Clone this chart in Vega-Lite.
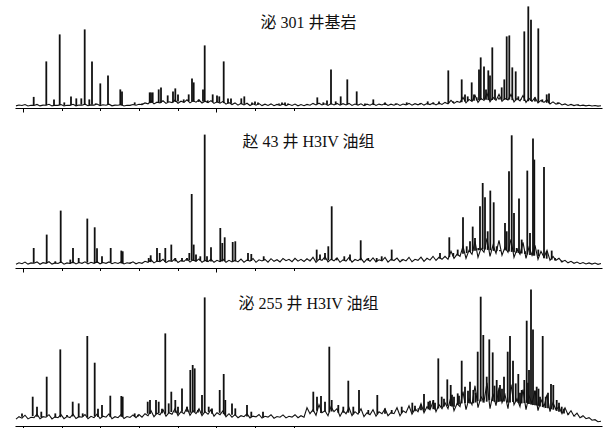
{
"$schema": "https://vega.github.io/schema/vega-lite/v6.json",
"padding": {"left": 13, "top": 5, "right": 6, "bottom": 0},
"spacing": 14,
"config": {
 "view": {"stroke": null},
 "axis": {"labels": false, "grid": false, "title": null, "domainColor": "#000", "domainWidth": 1, "tickColor": "#000", "tickWidth": 1},
 "title": {"font": "Liberation Serif, Noto Sans CJK SC", "fontSize": 16, "fontWeight": "normal", "color": "#111", "anchor": "middle", "baseline": "alphabetic"}
},
"datasets": {
 "n1": [{"x":14,"y":0.5},{"x":17,"y":1.4},{"x":20,"y":0.9},{"x":23,"y":1.9},{"x":26,"y":0.4},{"x":29,"y":1.2},{"x":32,"y":1},{"x":35,"y":2},{"x":38,"y":0.5},{"x":41,"y":1.3},{"x":44,"y":1.1},{"x":47,"y":2.1},{"x":50,"y":0.5},{"x":53,"y":1.2},{"x":56,"y":1},{"x":59,"y":1.9},{"x":62,"y":0.4},{"x":65,"y":1.1},{"x":68,"y":1},{"x":71,"y":2.1},{"x":74,"y":0.6},{"x":77,"y":1.4},{"x":80,"y":1.2},{"x":83,"y":2.2},{"x":86,"y":0.7},{"x":89,"y":1.5},{"x":92,"y":1.3},{"x":95,"y":2.4},{"x":98,"y":0.8},{"x":101,"y":1.6},{"x":104,"y":1.2},{"x":107,"y":2.2},{"x":110,"y":0.6},{"x":113,"y":1.3},{"x":116,"y":1.1},{"x":119,"y":1.9},{"x":122,"y":0.4},{"x":125,"y":1.2},{"x":128,"y":1},{"x":131,"y":1.9},{"x":134,"y":1.2},{"x":137,"y":2.2},
  {"x":140,"y":1.8},{"x":143,"y":3.5},{"x":146,"y":2.6},{"x":149,"y":5.5},{"x":152,"y":2.5},{"x":155,"y":4.2},{"x":158,"y":3.4},{"x":161,"y":5.6},{"x":164,"y":3},{"x":167,"y":4.6},{"x":170,"y":3.8},{"x":173,"y":6.4},{"x":176,"y":3.2},{"x":179,"y":5.2},{"x":182,"y":4},{"x":185,"y":6.6},{"x":188,"y":3.5},{"x":191,"y":5.6},{"x":194,"y":4.2},{"x":197,"y":6.4},{"x":200,"y":3.4},{"x":203,"y":5.2},{"x":206,"y":3.8},{"x":209,"y":5.8},{"x":212,"y":3},{"x":215,"y":4.6},{"x":218,"y":3.2},{"x":221,"y":5},{"x":224,"y":2.2},{"x":227,"y":3.8},{"x":230,"y":1.8},
  {"x":233,"y":3.5},{"x":236,"y":1.2},{"x":239,"y":3},{"x":242,"y":1.5},{"x":245,"y":3.2},{"x":248,"y":0.9},{"x":251,"y":2.6},{"x":254,"y":1.2},{"x":257,"y":2.8},{"x":260,"y":0.8},{"x":263,"y":2.2},{"x":266,"y":1},{"x":269,"y":2.5},{"x":272,"y":0.7},{"x":275,"y":2},{"x":278,"y":1.1},{"x":281,"y":2.4},{"x":284,"y":0.8},{"x":287,"y":2.1},{"x":290,"y":1},{"x":293,"y":2.3},{"x":296,"y":0.6},{"x":299,"y":1.8},
  {"x":302,"y":0.7},{"x":305,"y":2},{"x":308,"y":1.2},{"x":311,"y":3},{"x":314,"y":1.5},{"x":317,"y":3.2},{"x":320,"y":1.4},{"x":323,"y":2.6},{"x":326,"y":1},{"x":329,"y":2.8},{"x":332,"y":1.5},{"x":335,"y":3},{"x":338,"y":1.2},{"x":341,"y":2.7},{"x":344,"y":1.4},{"x":347,"y":3},{"x":350,"y":1},{"x":353,"y":2.4},{"x":356,"y":1.3},{"x":359,"y":2.6},{"x":362,"y":0.8},{"x":365,"y":2.2},{"x":368,"y":1.2},{"x":371,"y":2.8},{"x":374,"y":1},{"x":377,"y":2.3},{"x":380,"y":1.4},{"x":383,"y":2.9},{"x":386,"y":0.9},{"x":389,"y":2.2},{"x":392,"y":1.2},{"x":395,"y":2.6},{"x":398,"y":1},{"x":401,"y":2.4},{"x":404,"y":1.5},{"x":407,"y":3},{"x":410,"y":1.2},{"x":413,"y":2.7},{"x":416,"y":1.6},{"x":419,"y":3.1},{"x":422,"y":1.3},{"x":425,"y":2.8},{"x":428,"y":1.8},{"x":431,"y":3.3},{"x":434,"y":1.5},{"x":437,"y":3.2},{"x":440,"y":2},
  {"x":443,"y":4},{"x":446,"y":2.5},{"x":449,"y":6},{"x":452,"y":3},{"x":455,"y":5},{"x":458,"y":4},{"x":461,"y":9},{"x":464,"y":3.5},{"x":467,"y":7},{"x":470,"y":5},{"x":473,"y":11},{"x":476,"y":4},{"x":479,"y":8},{"x":482,"y":6},{"x":485,"y":13},{"x":488,"y":4.5},{"x":491,"y":9},{"x":494,"y":6},{"x":497,"y":12},{"x":500,"y":5},{"x":503,"y":8},{"x":506,"y":6.5},{"x":509,"y":12},{"x":512,"y":4.5},{"x":515,"y":8},{"x":518,"y":5.5},{"x":521,"y":11},{"x":524,"y":4},{"x":527,"y":8},{"x":530,"y":5},{"x":533,"y":9},{"x":536,"y":3.5},{"x":539,"y":6},{"x":542,"y":4},{"x":545,"y":6.5},{"x":548,"y":2.5},{"x":551,"y":4.5},{"x":554,"y":2.2},{"x":557,"y":3.5},{"x":560,"y":1.5},
  {"x":563,"y":2.5},{"x":566,"y":1},{"x":569,"y":2},{"x":572,"y":0.8},{"x":575,"y":1.6},{"x":578,"y":0.6},{"x":581,"y":1.3},{"x":584,"y":0.5},{"x":587,"y":1.1},{"x":590,"y":0.4},{"x":593,"y":0.9},{"x":596,"y":0.3},{"x":599,"y":0.6}],
 "p1": [{"x":31.7,"h":9.5,"b":1.2},{"x":44.3,"h":45,"b":1.2},{"x":52,"h":7,"b":0.8},{"x":57.7,"h":72,"b":1.2},{"x":62.3,"h":4,"b":0.8},{"x":69,"h":10,"b":1.4},{"x":74.3,"h":8,"b":1},{"x":79.3,"h":8,"b":1.7},{"x":82.7,"h":77,"b":1.5},{"x":87.3,"h":7,"b":1.3},{"x":90,"h":45,"b":1.8},{"x":93.7,"h":3,"b":2},{"x":98.3,"h":23,"b":1.5},{"x":106,"h":31,"b":1.6},{"x":118.3,"h":17,"b":1.2},{"x":120,"h":15,"b":1},{"x":132.7,"h":4,"b":1.6},{"x":140,"h":3,"b":2.5},{"x":147.7,"h":14,"b":3.2},{"x":149,"h":14,"b":3.5},{"x":150.7,"h":14,"b":3.8},{"x":156.7,"h":17,"b":3.6},{"x":159,"h":19,"b":3.7},{"x":165.7,"h":11,"b":4.3},{"x":171,"h":15,"b":4},{"x":173.3,"h":18,"b":4.4},{"x":176,"h":12,"b":5},{"x":181.7,"h":7,"b":4},{"x":186.7,"h":12,"b":5.2},{"x":190,"h":28,"b":5},{"x":191.7,"h":24,"b":4.7},{"x":196.7,"h":7,"b":4.5},{"x":201,"h":17,"b":4.8},{"x":202.7,"h":61,"b":4.6},{"x":205.7,"h":6,"b":3.9},{"x":210.7,"h":12,"b":4.3},{"x":215,"h":11,"b":4},{"x":217.3,"h":10,"b":3.6},{"x":221.7,"h":45,"b":3.3},{"x":226,"h":8,"b":2.8},{"x":229,"h":8,"b":2.6},{"x":239.3,"h":8,"b":2.3},{"x":242.3,"h":10,"b":2.5},{"x":250,"h":4,"b":1.6},{"x":253,"h":5,"b":1.8},{"x":256,"h":4,"b":1.6},{"x":277,"h":3,"b":1.7},{"x":280,"h":4,"b":1.6},{"x":283,"h":4,"b":1.3},{"x":286,"h":3,"b":1.3},{"x":315.3,"h":9,"b":2.4},{"x":321.3,"h":4,"b":1.9},{"x":325,"h":6,"b":1.6},{"x":329,"h":37,"b":1.8},{"x":333.7,"h":5,"b":1.9},{"x":338.7,"h":10,"b":1.5},{"x":345.3,"h":27,"b":1.9},{"x":354.7,"h":15,"b":1.6},{"x":363,"h":3,"b":1.1},{"x":371.3,"h":7,"b":1.4},{"x":383,"h":4,"b":1.4},{"x":393.7,"h":3,"b":1.4},{"x":404.7,"h":4,"b":1.8},{"x":418,"h":3,"b":1.8},{"x":425.7,"h":5,"b":1.9},{"x":431.3,"h":4,"b":2},{"x":437,"h":5,"b":2.2},{"x":446.3,"h":36,"b":3},{"x":451.3,"h":5,"b":3.4},{"x":459.7,"h":27,"b":4.2},{"x":463,"h":12,"b":4.8},{"x":465.7,"h":10,"b":5.1},{"x":469.7,"h":24,"b":5.5},{"x":472,"h":12,"b":5.7},{"x":474.7,"h":9,"b":5.9},{"x":477,"h":37,"b":6.2},{"x":478.7,"h":49,"b":6.4},{"x":482,"h":40,"b":7},{"x":484,"h":17,"b":6.7},{"x":486.3,"h":36,"b":6.3},{"x":488,"h":31,"b":6},{"x":490.3,"h":59,"b":6.4},{"x":493,"h":17,"b":6.8},{"x":497,"h":9,"b":6.8},{"x":499.7,"h":19,"b":6.5},{"x":502.3,"h":27,"b":6.7},{"x":504.7,"h":70,"b":6.9},{"x":507.3,"h":71,"b":6.8},{"x":510.3,"h":39,"b":6.3},{"x":513.7,"h":35,"b":6.1},{"x":516.3,"h":10,"b":6.3},{"x":519,"h":7,"b":6.3},{"x":522.3,"h":75,"b":5.4},{"x":526.3,"h":100,"b":5.2},{"x":529,"h":86.6,"b":5.3},{"x":533,"h":9,"b":5},{"x":536.3,"h":78,"b":4.5},{"x":540.3,"h":7,"b":4.2},{"x":544.7,"h":12,"b":3.6},{"x":547,"h":13,"b":3.2},{"x":555.7,"h":4,"b":2.2},{"x":576.3,"h":2,"b":0.9}],
 "n2": [{"x":14,"y":1},{"x":17,"y":2.5},{"x":20,"y":1.6},{"x":23,"y":3.2},{"x":26,"y":1.2},{"x":29,"y":2.4},{"x":32,"y":2},{"x":35,"y":3.4},{"x":38,"y":1},{"x":41,"y":2.6},{"x":44,"y":2},{"x":47,"y":3.6},{"x":50,"y":1.2},{"x":53,"y":2.4},{"x":56,"y":1.8},{"x":59,"y":3.4},{"x":62,"y":1.1},{"x":65,"y":2.4},{"x":68,"y":1.8},{"x":71,"y":3.3},{"x":74,"y":1.4},{"x":77,"y":2.8},{"x":80,"y":2},{"x":83,"y":3.5},{"x":86,"y":1.4},{"x":89,"y":3},{"x":92,"y":2},{"x":95,"y":3.6},{"x":98,"y":1.5},{"x":101,"y":2.8},{"x":104,"y":2},{"x":107,"y":3.4},{"x":110,"y":1.6},{"x":113,"y":2.8},{"x":116,"y":1.8},{"x":119,"y":3.3},{"x":122,"y":1.3},{"x":125,"y":2.6},{"x":128,"y":2},{"x":131,"y":3.5},{"x":134,"y":1.5},{"x":137,"y":2.8},
  {"x":140,"y":2},{"x":143,"y":4},{"x":146,"y":3},{"x":149,"y":5.5},{"x":152,"y":2.4},{"x":155,"y":4.2},{"x":158,"y":3.6},{"x":161,"y":6},{"x":164,"y":2.7},{"x":167,"y":4.6},{"x":170,"y":3.8},{"x":173,"y":6.4},{"x":176,"y":2.8},{"x":179,"y":4.8},{"x":182,"y":4},{"x":185,"y":6.6},{"x":188,"y":3.2},{"x":191,"y":5.4},{"x":194,"y":4},{"x":197,"y":6.4},{"x":200,"y":3},{"x":203,"y":5},{"x":206,"y":3.6},{"x":209,"y":6},{"x":212,"y":3},{"x":215,"y":5},{"x":218,"y":3.6},{"x":221,"y":6},{"x":224,"y":3},{"x":227,"y":5},{"x":230,"y":3.4},
  {"x":233,"y":5},{"x":236,"y":3.4},{"x":239,"y":6.2},{"x":242,"y":3},{"x":245,"y":5.2},{"x":248,"y":4.2},{"x":251,"y":6.8},{"x":254,"y":3},{"x":257,"y":5.5},{"x":260,"y":4.4},{"x":263,"y":6},{"x":266,"y":3.2},{"x":269,"y":6.6},{"x":272,"y":4},{"x":275,"y":5.6},{"x":278,"y":3.4},{"x":281,"y":6.8},{"x":284,"y":4.6},{"x":287,"y":6},{"x":290,"y":3.6},{"x":293,"y":7},{"x":296,"y":4.2},{"x":299,"y":6},
  {"x":302,"y":3.8},{"x":305,"y":6.5},{"x":308,"y":4.2},{"x":311,"y":8},{"x":314,"y":3},{"x":317,"y":6},{"x":320,"y":5},{"x":323,"y":8.5},{"x":326,"y":3.5},{"x":329,"y":6},{"x":332,"y":4.5},{"x":335,"y":7.5},{"x":338,"y":3},{"x":341,"y":5.5},{"x":344,"y":4.2},{"x":347,"y":7.8},{"x":350,"y":3.2},{"x":353,"y":5.8},{"x":356,"y":4.6},{"x":359,"y":7},{"x":362,"y":3},{"x":365,"y":6.2},{"x":368,"y":4},{"x":371,"y":7.5},{"x":374,"y":3.4},{"x":377,"y":5.5},{"x":380,"y":4.5},{"x":383,"y":7.8},{"x":386,"y":3.2},{"x":389,"y":6},{"x":392,"y":4.8},{"x":395,"y":7.2},{"x":398,"y":3.4},{"x":401,"y":5.8},{"x":404,"y":4.4},{"x":407,"y":8},{"x":410,"y":3.6},{"x":413,"y":6},{"x":416,"y":5},{"x":419,"y":8.2},{"x":422,"y":4},{"x":425,"y":7},{"x":428,"y":5.2},{"x":431,"y":9},{"x":434,"y":4.8},{"x":437,"y":8},{"x":440,"y":6},
  {"x":443,"y":9},{"x":446,"y":6},{"x":449,"y":14},{"x":452,"y":7},{"x":455,"y":11},{"x":458,"y":9},{"x":461,"y":19},{"x":464,"y":7},{"x":467,"y":15},{"x":470,"y":11},{"x":473,"y":24},{"x":476,"y":8},{"x":479,"y":17},{"x":482,"y":13},{"x":485,"y":27},{"x":488,"y":9},{"x":491,"y":20},{"x":494,"y":12},{"x":497,"y":25},{"x":500,"y":10},{"x":503,"y":18},{"x":506,"y":13},{"x":509,"y":26},{"x":512,"y":8},{"x":515,"y":16},{"x":518,"y":11},{"x":521,"y":23},{"x":524,"y":7},{"x":527,"y":18},{"x":530,"y":10},{"x":533,"y":20},{"x":536,"y":6},{"x":539,"y":14},{"x":542,"y":8},{"x":545,"y":15},{"x":548,"y":5},{"x":551,"y":9},{"x":554,"y":5},{"x":557,"y":7},{"x":560,"y":3.5},
  {"x":563,"y":5},{"x":566,"y":2.5},{"x":569,"y":4},{"x":572,"y":2},{"x":575,"y":3.2},{"x":578,"y":1.6},{"x":581,"y":2.8},{"x":584,"y":1.4},{"x":587,"y":2.4},{"x":590,"y":1.2},{"x":593,"y":2.2},{"x":596,"y":1},{"x":599,"y":1.8}],
 "p2": [{"x":31.7,"h":17.3,"b":2.4},{"x":44.7,"h":30.7,"b":2.1},{"x":53.3,"h":4,"b":2},{"x":58.7,"h":54.7,"b":2.3},{"x":68.3,"h":5.7,"b":1.6},{"x":71,"h":17.3,"b":2},{"x":76.7,"h":7.3,"b":2.3},{"x":85.3,"h":46.7,"b":2.7},{"x":92.7,"h":38,"b":2.1},{"x":95,"h":17,"b":2.2},{"x":100,"h":9,"b":2.3},{"x":108.7,"h":17.3,"b":2.6},{"x":119.3,"h":14.7,"b":1.9},{"x":120.7,"h":14,"b":1.9},{"x":128.3,"h":3,"b":2.5},{"x":146.7,"h":7.3,"b":3.4},{"x":148.7,"h":10,"b":3.2},{"x":155,"h":17.3,"b":3.5},{"x":157.7,"h":12.3,"b":4},{"x":163.3,"h":17.3,"b":3.3},{"x":169.3,"h":20.7,"b":4.4},{"x":173.3,"h":7.3,"b":4},{"x":180,"h":7.3,"b":3.8},{"x":185,"h":7.3,"b":4.5},{"x":187.3,"h":12.3,"b":4.9},{"x":189.7,"h":71.3,"b":4.7},{"x":191.7,"h":20.7,"b":4.4},{"x":194,"h":10.7,"b":4},{"x":198.3,"h":9,"b":4.4},{"x":202.7,"h":130.7,"b":4},{"x":205,"h":9,"b":3.6},{"x":209,"h":18,"b":3.8},{"x":218.3,"h":37.3,"b":3.6},{"x":220.3,"h":22.3,"b":3.9},{"x":222.7,"h":28,"b":4.3},{"x":230.7,"h":23.3,"b":3.6},{"x":233.3,"h":24,"b":3.8},{"x":246,"h":12.3,"b":4.3},{"x":249.3,"h":11.3,"b":4.3},{"x":261.7,"h":9,"b":4.7},{"x":308,"h":5.7,"b":5.5},{"x":314.7,"h":15.7,"b":4.6},{"x":318,"h":10.7,"b":5.5},{"x":323,"h":12.3,"b":5.5},{"x":326.3,"h":19,"b":5},{"x":329.7,"h":59,"b":5.3},{"x":334.7,"h":7.3,"b":5},{"x":342.3,"h":9,"b":4.6},{"x":348,"h":10.7,"b":4.7},{"x":358.7,"h":25,"b":5},{"x":366.3,"h":7.3,"b":4.8},{"x":374.7,"h":7.3,"b":4.2},{"x":379.7,"h":9,"b":5.3},{"x":389.7,"h":15.7,"b":4.8},{"x":399.7,"h":5.7,"b":4.6},{"x":438,"h":12.3,"b":6.7},{"x":443,"h":7.3,"b":7.5},{"x":447.3,"h":28,"b":8.2},{"x":451.3,"h":12.3,"b":8.9},{"x":455.7,"h":15.7,"b":10},{"x":461,"h":48,"b":11.5},{"x":464.7,"h":19,"b":12.2},{"x":468,"h":24,"b":13.3},{"x":470.7,"h":38.7,"b":14.1},{"x":473,"h":27.3,"b":14.5},{"x":476.3,"h":17.3,"b":15},{"x":478,"h":59,"b":15.3},{"x":480.7,"h":82.3,"b":15.8},{"x":483,"h":68,"b":15.8},{"x":485.7,"h":34,"b":15.4},{"x":488.3,"h":74.7,"b":15},{"x":491.7,"h":63,"b":14.4},{"x":494.7,"h":19,"b":14.2},{"x":498,"h":14,"b":15.3},{"x":503,"h":42.3,"b":15},{"x":504.7,"h":34,"b":14.7},{"x":507,"h":94,"b":13.8},{"x":509.7,"h":130,"b":13.4},{"x":512,"h":52.3,"b":13},{"x":514.7,"h":17.3,"b":12.5},{"x":517,"h":66.7,"b":12.2},{"x":519.7,"h":25.7,"b":11.8},{"x":523,"h":14,"b":11.2},{"x":525.3,"h":94.7,"b":10.8},{"x":528,"h":32.3,"b":10.3},{"x":531,"h":126.7,"b":9.8},{"x":532.3,"h":105.7,"b":9.6},{"x":536.3,"h":15.7,"b":9},{"x":542,"h":98.3,"b":7},{"x":544.7,"h":14,"b":6.6},{"x":549.7,"h":14.7,"b":5.7},{"x":553,"h":7.3,"b":4.8},{"x":559.7,"h":4.7,"b":3}],
 "n3": [{"x":14,"y":1.5},{"x":17,"y":4},{"x":20,"y":2.5},{"x":23,"y":5.5},{"x":26,"y":1.8},{"x":29,"y":3.5},{"x":32,"y":3},{"x":35,"y":6.5},{"x":38,"y":2},{"x":41,"y":4},{"x":44,"y":3.5},{"x":47,"y":6},{"x":50,"y":1.8},{"x":53,"y":3.8},{"x":56,"y":3},{"x":59,"y":6},{"x":62,"y":2},{"x":65,"y":4.2},{"x":68,"y":3.2},{"x":71,"y":6.5},{"x":74,"y":2.2},{"x":77,"y":4},{"x":80,"y":3.5},{"x":83,"y":6.2},{"x":86,"y":2},{"x":89,"y":4.4},{"x":92,"y":3},{"x":95,"y":6.5},{"x":98,"y":2.2},{"x":101,"y":4.5},{"x":104,"y":3.5},{"x":107,"y":6.8},{"x":110,"y":2},{"x":113,"y":4},{"x":116,"y":3},{"x":119,"y":6},{"x":122,"y":2.2},{"x":125,"y":4.2},{"x":128,"y":3.2},{"x":131,"y":5.8},{"x":134,"y":3},{"x":137,"y":6.2},
  {"x":140,"y":3.5},{"x":143,"y":7},{"x":146,"y":5},{"x":149,"y":10},{"x":152,"y":4},{"x":155,"y":7.5},{"x":158,"y":6},{"x":161,"y":11},{"x":164,"y":4.5},{"x":167,"y":8},{"x":170,"y":6.5},{"x":173,"y":12},{"x":176,"y":5},{"x":179,"y":9},{"x":182,"y":7},{"x":185,"y":13},{"x":188,"y":5.5},{"x":191,"y":10},{"x":194,"y":7},{"x":197,"y":12},{"x":200,"y":5},{"x":203,"y":9},{"x":206,"y":6.5},{"x":209,"y":11},{"x":212,"y":4.5},{"x":215,"y":8},{"x":218,"y":6},{"x":221,"y":10},{"x":224,"y":4},{"x":227,"y":7},{"x":230,"y":3.5},
  {"x":233,"y":6},{"x":236,"y":3},{"x":239,"y":5},{"x":242,"y":4},{"x":245,"y":6.8},{"x":248,"y":2.8},{"x":251,"y":4.6},{"x":254,"y":3.8},{"x":257,"y":6.2},{"x":260,"y":2.6},{"x":263,"y":4.4},{"x":266,"y":3.6},{"x":269,"y":6},{"x":272,"y":2.5},{"x":275,"y":4.2},{"x":278,"y":3.5},{"x":281,"y":5.8},{"x":284,"y":2.8},{"x":287,"y":4.4},{"x":290,"y":3.6},{"x":293,"y":6},{"x":296,"y":3},{"x":299,"y":5},
  {"x":302,"y":3.5},{"x":305,"y":13},{"x":308,"y":7},{"x":311,"y":11},{"x":314,"y":5.5},{"x":317,"y":16},{"x":320,"y":8},{"x":323,"y":10},{"x":326,"y":5},{"x":329,"y":14},{"x":332,"y":9},{"x":335,"y":12},{"x":338,"y":4.5},{"x":341,"y":10},{"x":344,"y":7},{"x":347,"y":13},{"x":350,"y":5},{"x":353,"y":9},{"x":356,"y":6.5},{"x":359,"y":12},{"x":362,"y":4},{"x":365,"y":8},{"x":368,"y":6},{"x":371,"y":11},{"x":374,"y":4.5},{"x":377,"y":9},{"x":380,"y":7},{"x":383,"y":12},{"x":386,"y":5},{"x":389,"y":8},{"x":392,"y":7},{"x":395,"y":13},{"x":398,"y":5},{"x":401,"y":10},{"x":404,"y":8},{"x":407,"y":15},{"x":410,"y":6.5},{"x":413,"y":12},{"x":416,"y":9},{"x":419,"y":17},{"x":422,"y":8},{"x":425,"y":14},{"x":428,"y":11},{"x":431,"y":19},{"x":434,"y":9},{"x":437,"y":16},{"x":440,"y":12},
  {"x":443,"y":18},{"x":446,"y":12},{"x":449,"y":24},{"x":452,"y":10},{"x":455,"y":17},{"x":458,"y":14},{"x":461,"y":29},{"x":464,"y":11},{"x":467,"y":22},{"x":470,"y":16},{"x":473,"y":35},{"x":476,"y":13},{"x":479,"y":24},{"x":482,"y":19},{"x":485,"y":38},{"x":488,"y":12},{"x":491,"y":27},{"x":494,"y":15},{"x":497,"y":33},{"x":500,"y":18},{"x":503,"y":26},{"x":506,"y":12},{"x":509,"y":36},{"x":512,"y":16},{"x":515,"y":22},{"x":518,"y":14},{"x":521,"y":31},{"x":524,"y":11},{"x":527,"y":25},{"x":530,"y":17},{"x":533,"y":30},{"x":536,"y":10},{"x":539,"y":21},{"x":542,"y":14},{"x":545,"y":26},{"x":548,"y":9},{"x":551,"y":18},{"x":554,"y":11},{"x":557,"y":14},{"x":560,"y":7},
  {"x":563,"y":13},{"x":566,"y":6},{"x":569,"y":10},{"x":572,"y":4.5},{"x":575,"y":7.5},{"x":578,"y":3},{"x":581,"y":5},{"x":584,"y":2},{"x":587,"y":3},{"x":590,"y":0.5},{"x":593,"y":1},{"x":596,"y":-1},{"x":599,"y":-0.5}],
 "p3": [{"x":20,"h":7.3,"b":4},{"x":30.7,"h":24,"b":4.5},{"x":35,"h":14,"b":4},{"x":39.3,"h":9,"b":3.5},{"x":44.7,"h":44,"b":4.4},{"x":53.3,"h":7.3,"b":3.3},{"x":58.3,"h":71.3,"b":3.5},{"x":65,"h":5.7,"b":4},{"x":70.7,"h":19,"b":4.3},{"x":76.7,"h":17.3,"b":3.7},{"x":80.7,"h":7.3,"b":4},{"x":85.3,"h":84.7,"b":3.2},{"x":92.7,"h":58,"b":4.4},{"x":96,"h":12,"b":3.8},{"x":100,"h":15.7,"b":4},{"x":108.3,"h":25,"b":3.7},{"x":119.3,"h":24.7,"b":4},{"x":120.7,"h":24,"b":3.8},{"x":132.7,"h":7.3,"b":3.8},{"x":136,"h":6,"b":4.3},{"x":145.7,"h":19,"b":7},{"x":148,"h":20.7,"b":6.7},{"x":154,"h":20.7,"b":6.5},{"x":156.7,"h":19,"b":7.5},{"x":160,"h":12,"b":7.5},{"x":163.3,"h":87.3,"b":6.8},{"x":166.7,"h":17.3,"b":7.5},{"x":169.3,"h":29,"b":8.7},{"x":173.3,"h":20.7,"b":8},{"x":176,"h":14,"b":7},{"x":180,"h":32.3,"b":9},{"x":185,"h":14,"b":9},{"x":188.3,"h":50.7,"b":8},{"x":190.7,"h":55.7,"b":8.3},{"x":192.7,"h":52.3,"b":8.8},{"x":196,"h":10.7,"b":8.3},{"x":200,"h":25.7,"b":7},{"x":202.7,"h":123.3,"b":7.9},{"x":206.7,"h":14,"b":8.8},{"x":210,"h":12.3,"b":7},{"x":217.7,"h":30.7,"b":7.9},{"x":221.7,"h":46.7,"b":6.5},{"x":223.3,"h":20.7,"b":5.3},{"x":230,"h":17.3,"b":6},{"x":233.3,"h":12.3,"b":5.2},{"x":245,"h":15.7,"b":4.2},{"x":249.3,"h":9,"b":3.7},{"x":261,"h":9,"b":3.1},{"x":311.3,"h":29,"b":8.8},{"x":315,"h":24,"b":10},{"x":319,"h":24.7,"b":7.8},{"x":323,"h":19,"b":9.5},{"x":327.3,"h":74,"b":8.4},{"x":329.7,"h":20.7,"b":9.2},{"x":336.3,"h":15.7,"b":7.9},{"x":341.3,"h":14,"b":8},{"x":346.3,"h":40,"b":8},{"x":351.3,"h":14,"b":6.4},{"x":357,"h":30.7,"b":7.6},{"x":366.3,"h":10.7,"b":6.5},{"x":375.3,"h":25.7,"b":6.3},{"x":383,"h":12.3,"b":7},{"x":389.7,"h":10.7,"b":7.2},{"x":399.7,"h":14,"b":7.5},{"x":410.3,"h":18,"b":8.2},{"x":413,"h":15,"b":9.5},{"x":416.3,"h":12.3,"b":11},{"x":419,"h":16,"b":10.5},{"x":422,"h":26.7,"b":10},{"x":426.3,"h":19,"b":11.4},{"x":428,"h":20,"b":12},{"x":431.3,"h":20.7,"b":11.5},{"x":433,"h":18,"b":11.2},{"x":436.3,"h":62.3,"b":12.2},{"x":439.7,"h":24,"b":13.5},{"x":442,"h":22,"b":14.3},{"x":445.3,"h":41.3,"b":14.8},{"x":448.7,"h":35.7,"b":14.6},{"x":450,"h":26,"b":14.3},{"x":452,"h":24,"b":14},{"x":455.7,"h":27.3,"b":15.8},{"x":457,"h":25,"b":16.3},{"x":459.7,"h":60,"b":17.3},{"x":463,"h":34,"b":17.8},{"x":466,"h":30,"b":17.6},{"x":468,"h":39,"b":17.3},{"x":471.3,"h":30.7,"b":17.4},{"x":473.5,"h":28,"b":18.2},{"x":475.7,"h":69,"b":19.5},{"x":478.7,"h":124,"b":19.3},{"x":481.3,"h":85.7,"b":18.2},{"x":484.7,"h":44,"b":19},{"x":487.3,"h":81.3,"b":20.5},{"x":490.7,"h":68.3,"b":19.6},{"x":492.5,"h":35,"b":18.8},{"x":494.7,"h":40.7,"b":18.3},{"x":496.5,"h":30,"b":18.8},{"x":498,"h":35.7,"b":19.3},{"x":500,"h":32,"b":20},{"x":502,"h":44,"b":19.3},{"x":505.7,"h":69,"b":18.1},{"x":508,"h":84.7,"b":18.3},{"x":511,"h":60,"b":18.8},{"x":513.7,"h":37.3,"b":18.7},{"x":516.3,"h":46.7,"b":17.8},{"x":518,"h":28,"b":17},{"x":519.7,"h":30.7,"b":17.3},{"x":522.3,"h":40.7,"b":17.6},{"x":524.7,"h":100,"b":17.8},{"x":526,"h":38,"b":17.3},{"x":527,"h":50.7,"b":16.8},{"x":529,"h":131.3,"b":16.2},{"x":531,"h":91.3,"b":15.8},{"x":533,"h":30,"b":15.5},{"x":534.7,"h":34,"b":15.2},{"x":536.5,"h":32,"b":14.8},{"x":538,"h":24,"b":14.3},{"x":540.7,"h":84.7,"b":13.6},{"x":543.7,"h":24,"b":12.7},{"x":546,"h":28,"b":12.5},{"x":549,"h":36.7,"b":11.8},{"x":551.3,"h":35.7,"b":11},{"x":554.7,"h":20.7,"b":9.8},{"x":557,"h":18,"b":9},{"x":559.7,"h":14,"b":8.1},{"x":562,"h":12,"b":7.3},{"x":566.3,"h":7.3,"b":5.9},{"x":573,"h":4,"b":4.2},{"x":579.7,"h":3,"b":2.7}]
},
"vconcat": [
 {
  "width": 587, "height": 103,
  "title": {"text": "泌 301 井基岩", "offset": -26},
  "layer": [
   {"data": {"name": "n1"}, "mark": {"type": "line", "color": "#111", "strokeWidth": 1.1},
    "encoding": {
     "x": {"field": "x", "type": "quantitative", "scale": {"domain": [13, 600], "nice": false, "zero": false},
      "axis": {"values": [21,30.67,40.33,50,59.67,69.33,79,88.67,98.33,108,117.67,127.33,137,146.67,156.33,166,175.67,185.33,195,204.67,214.33,224,233.67,243.33,253,262.67,272.33,282,291.67,301.33,325],
       "tickSize": {"condition": {"test": "indexof([21,69.33,117.67,166,214.33,262.67,325,580], datum.value) >= 0", "value": 4}, "value": 2.5}}},
     "y": {"field": "y", "type": "quantitative", "scale": {"domain": [-1.6, 101.4], "nice": false, "zero": false}, "axis": null}}},
   {"data": {"name": "p1"}, "mark": {"type": "rule", "color": "#111", "strokeWidth": 1.8},
    "encoding": {"x": {"field": "x", "type": "quantitative"}, "y": {"field": "h", "type": "quantitative"}, "y2": {"field": "b"}}}
  ]
 },
 {
  "width": 587, "height": 141,
  "title": {"text": "赵 43 井 H3IV 油组", "offset": -23},
  "layer": [
   {"data": {"name": "n2"}, "mark": {"type": "line", "color": "#111", "strokeWidth": 1.1},
    "encoding": {
     "x": {"field": "x", "type": "quantitative", "scale": {"domain": [13, 600], "nice": false, "zero": false},
      "axis": {"values": [21,30.67,40.33,50,59.67,69.33,79,88.67,98.33,108,117.67,127.33,137,146.67,156.33,166,175.67,185.33,195,204.67,214.33,224,233.67,243.33,253,262.67,272.33,282,291.67,301.33,325],
       "tickSize": {"condition": {"test": "indexof([21,69.33,117.67,166,214.33,262.67,325,580], datum.value) >= 0", "value": 4}, "value": 2.5}}},
     "y": {"field": "y", "type": "quantitative", "scale": {"domain": [-2.7, 138.3], "nice": false, "zero": false}, "axis": null}}},
   {"data": {"name": "p2"}, "mark": {"type": "rule", "color": "#111", "strokeWidth": 1.8},
    "encoding": {"x": {"field": "x", "type": "quantitative"}, "y": {"field": "h", "type": "quantitative"}, "y2": {"field": "b"}}}
  ]
 },
 {
  "width": 587, "height": 139,
  "title": {"text": "泌 255 井 H3IV 油组", "offset": -25},
  "layer": [
   {"data": {"name": "n3"}, "mark": {"type": "line", "color": "#111", "strokeWidth": 1.1},
    "encoding": {
     "x": {"field": "x", "type": "quantitative", "scale": {"domain": [13, 600], "nice": false, "zero": false},
      "axis": {"values": [21,30.67,40.33,50,59.67,69.33,79,88.67,98.33,108,117.67,127.33,137,146.67,156.33,166,175.67,185.33,195,204.67,214.33,224,233.67,243.33,253,262.67,272.33,282,291.67,301.33,325,580],
       "tickSize": {"condition": {"test": "indexof([21,69.33,117.67,166,214.33,262.67,325,580], datum.value) >= 0", "value": 4}, "value": 2.5}}},
     "y": {"field": "y", "type": "quantitative", "scale": {"domain": [-5.3, 133.7], "nice": false, "zero": false}, "axis": null}}},
   {"data": {"name": "p3"}, "mark": {"type": "rule", "color": "#111", "strokeWidth": 1.8},
    "encoding": {"x": {"field": "x", "type": "quantitative"}, "y": {"field": "h", "type": "quantitative"}, "y2": {"field": "b"}}}
  ]
 }
]
}
